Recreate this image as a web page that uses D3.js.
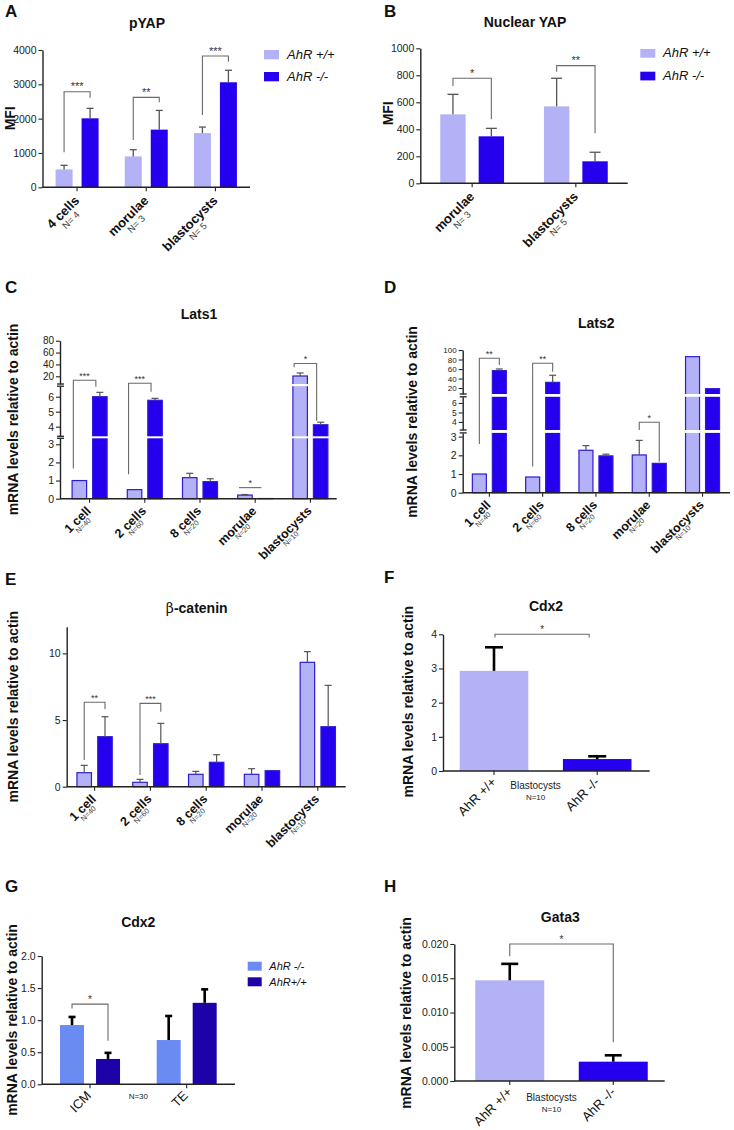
<!DOCTYPE html>
<html><head><meta charset="utf-8">
<script src="https://cdn.jsdelivr.net/npm/d3@7"></script>
<style>
body{margin:0;background:#fff;}
svg{display:block;font-family:"Liberation Sans",Arial,Helvetica,sans-serif;}
</style></head><body>
<svg id="fig" width="734" height="1130"></svg>
<script>
// ================= DATA =================
const genoNames = ["AhR +/+", "AhR -/-"];

// Panel A – pYAP (MFI)
const catA = ["4 cells", "morulae", "blastocysts"];
const nA = ["N= 4", "N= 3", "N= 5"];
const aWT = [520, 900, 1580];
const aWTsem = [120, 195, 175];
const aKO = [2010, 1680, 3060];
const aKOsem = [290, 560, 350];
const ticksA = [0, 1000, 2000, 3000, 4000];
// [group1, series1, group2, series2, top, leftBottom, rightBottom, label]
const sigA = [[0,0,0,1,2785,1020,2610,"***"],[1,0,1,1,2620,1378,2476,"**"],[2,0,2,1,3825,2106,3660,"***"]];

// Panel B – Nuclear YAP (MFI)
const catB = ["morulae", "blastocysts"];
const nB = ["N= 3", "N= 5"];
const bWT = [511, 570];
const bWTsem = [148, 208];
const bKO = [348, 163];
const bKOsem = [59, 67];
const ticksB = [0, 200, 400, 600, 800, 1000];
const sigB = [[0,0,0,1,778,721,474,"*"],[1,0,1,1,872,827,370,"**"]];

// Stages used in C, D, E
const catStages = ["1 cell", "2 cells", "8 cells", "morulae", "blastocysts"];
const nStages = ["N=40", "N=60", "N=20", "N=20", "N=10"];

// Panel C – Lats1
const cWT = [1.0, 0.5, 1.16, 0.2, 20.5];
const cWTsem = [0, 0, 0.24, 0.03, 5.1];
const cKO = [6.0, 5.76, 0.94, 0.01, 4.13];
const cKOsem = [0.29, 0.13, 0.16, 0, 0.17];
const ticksC = [[0,1,2,3],[4,5,6],[20,40,60,80]];
const sigC = [[0,0,0,1,13.3,1.67,6.67,"***"],[1,0,1,1,8.2,1.35,6.33,"***"],[3,0,3,1,0.61,0.61,0.61,"*"],[4,0,4,1,41.5,35.4,4.4,"*"]];

// Panel D – Lats2
const dWT = [1.0, 0.84, 2.27, 2.02, 86];
const dWTsem = [0, 0, 0.25, 0.78, 0];
const dKO = [56.6, 32, 1.97, 1.57, 18.7];
const dKOsem = [3.5, 14.9, 0.09, 0, 0];
const ticksD = [[0,1,2,3],[4,5,6],[20,40,60,80,100]];
const sigD = [[0,0,0,1,82.6,2.6,68.5,"**"],[1,0,1,1,72.1,1.4,54.4,"**"],[3,0,3,1,3.96,3.15,1.66,"*"]];

// Panel E – beta-catenin
const eWT = [1.05, 0.33, 0.93, 0.93, 9.33];
const eWTsem = [0.55, 0.22, 0.22, 0.42, 0.8];
const eKO = [3.75, 3.22, 1.83, 1.2, 4.5];
const eKOsem = [1.5, 1.53, 0.57, 0, 3.1];
const ticksE = [0, 5, 10];
const sigE = [[0,0,0,1,6.33,2.0,5.83,"**"],[1,0,1,1,6.25,0.88,5.63,"***"]];

// Panel F – Cdx2 blastocysts
const catF = ["AhR +/+", "AhR -/-"];
const fVal = [2.93, 0.35];
const fSem = [0.69, 0.08];
const ticksF = [0, 1, 2, 3, 4];
const sigF = [[0,0,1,0,4.16,3.91,3.91,"*"]];

// Panel G – Cdx2 ICM / TE
const catG = ["ICM", "TE"];
const seriesG = ["AhR -/-", "AhR+/+"];
const gKO = [0.924, 0.69];
const gKOsem = [0.126, 0.375];
const gWT = [0.395, 1.27];
const gWTsem = [0.095, 0.21];
const ticksG = [0, 0.5, 1.0, 1.5, 2.0];
const sigG = [[0,0,0,1,1.25,1.18,0.68,"*"]];

// Panel H – Gata3
const catH = ["AhR +/+", "AhR -/-"];
const hVal = [0.0147, 0.00282];
const hSem = [0.0024, 0.00093];
const ticksH = [0, 0.005, 0.010, 0.015, 0.020];
const sigH = [[0,0,1,0,0.0206,0.0182,0.00565,"*"]];

// ================= STYLE =================
const LIGHT = "#b4b2f6", DARK = "#2500ee", OUTLINE = "#2d1cd2";
const G_LIGHT = "#6a8cf2", G_DARK = "#1d02a8";
const svg = d3.select("#fig");

function txt(x, y, s, o) {
  o = o || {};
  const t = svg.append("text").attr("x", x).attr("y", y).text(s)
    .attr("font-size", o.fs || 12).attr("font-weight", o.bold ? "bold" : "normal")
    .attr("text-anchor", o.anchor || "start").attr("fill", o.fill || "#111");
  if (o.italic) t.attr("font-style", "italic");
  if (o.rot) t.attr("transform", `rotate(${o.rot},${x},${y})`);
  return t;
}

function panel(cfg) {
  const g = svg.append("g");
  const segs = cfg.segs.map(s => Object.assign({}, s, {sc: d3.scaleLinear().domain(s.d).range(s.r)}));
  const y = v => { let s = segs[0]; segs.forEach(t => { if (v >= t.d[0]) s = t; }); return s.sc(Math.min(v, s.d[1])); };
  const y0 = y(0);
  const x = d3.scaleBand().domain(cfg.cats).range(cfg.xr);
  const ns = cfg.vals.length;
  const gap = cfg.gap || 0;
  const total = ns * cfg.barW + (ns - 1) * gap;
  const xs = d3.scaleBand().domain(d3.range(ns)).range([-total / 2, total / 2])
    .paddingInner(ns > 1 ? gap / (cfg.barW + gap) : 0);
  const cx = i => x(cfg.cats[i]) + x.bandwidth() / 2;
  const barX = (i, j) => cx(i) + xs(j);
  const barC = (i, j) => barX(i, j) + xs.bandwidth() / 2;
  const w = xs.bandwidth();

  // bars + error bars + gap lines
  cfg.vals.forEach((vals, j) => {
    vals.forEach((v, i) => {
      const bx = barX(i, j);
      g.append("rect").attr("x", bx).attr("y", y(v)).attr("width", w).attr("height", Math.max(0, y0 - y(v)))
        .attr("fill", cfg.color(i, j))
        .attr("stroke", cfg.outline ? OUTLINE : "none").attr("stroke-width", cfg.outline ? 1.2 : 0);
      for (let k = 0; k < segs.length - 1; k++) {
        const gt = segs[k + 1].r[0], gb = segs[k].r[1];
        if (y(v) < gt) g.append("rect").attr("x", bx - 1).attr("y", gt).attr("width", w + 2).attr("height", gb - gt).attr("fill", "#fff");
      }
      const e = cfg.sems[j][i];
      if (e > 0) {
        const c = barC(i, j), yt = y(v + e), yb = y(v);
        g.append("line").attr("x1", c).attr("x2", c).attr("y1", yb).attr("y2", yt)
          .attr("stroke", cfg.err.stroke).attr("stroke-width", cfg.err.sw);
        g.append("line").attr("x1", c - cfg.err.cap / 2).attr("x2", c + cfg.err.cap / 2).attr("y1", yt).attr("y2", yt)
          .attr("stroke", cfg.err.stroke).attr("stroke-width", cfg.err.sw);
      }
    });
  });

  // y axis (possibly broken)
  segs.forEach((s, k) => {
    const a = g.append("g").attr("transform", `translate(${cfg.ax},0)`)
      .call(d3.axisLeft(s.sc).tickValues(s.ticks).tickSize(4).tickSizeOuter(0).tickPadding(2).tickFormat(cfg.fmt));
    a.attr("font-family", null).attr("font-size", null);
    a.select(".domain").attr("stroke", "#222").attr("stroke-width", 1.4);
    a.selectAll(".tick line").attr("stroke", "#222").attr("stroke-width", 1.1);
    a.selectAll(".tick text").attr("font-size", s.fs || 10.5).attr("fill", "#222");
    const marks = [];
    if (k > 0) marks.push(s.r[0]);
    if (k < segs.length - 1) marks.push(s.r[1]);
    marks.forEach(my => g.append("line").attr("x1", cfg.ax - 3).attr("x2", cfg.ax + 4).attr("y1", my).attr("y2", my)
      .attr("stroke", "#222").attr("stroke-width", 1.3));
  });

  // x axis
  const xa = g.append("g").attr("transform", `translate(0,${y0})`)
    .call(d3.axisBottom(x).tickSize(4).tickSizeOuter(0).tickFormat(""));
  xa.select(".domain").remove();
  xa.selectAll(".tick line").attr("stroke", "#222").attr("stroke-width", 1.1);
  g.append("line").attr("x1", cfg.ax).attr("x2", cfg.xEnd).attr("y1", y0).attr("y2", y0)
    .attr("stroke", "#222").attr("stroke-width", 1.4);

  // x labels
  const L = cfg.lab;
  cfg.cats.forEach((c, i) => {
    const t = g.append("g").attr("transform", `translate(${cx(i) + L.dx},${y0 + L.dy}) rotate(-45)`);
    const l1 = t.append("text").attr("text-anchor", "end").attr("font-size", L.fs1)
      .attr("font-weight", L.bold ? "bold" : "normal").attr("fill", "#111").text(c);
    if (cfg.ns) {
      const tw = l1.node().getComputedTextLength();
      t.append("text").attr("x", -tw / 2).attr("y", L.ly2).attr("text-anchor", "middle")
        .attr("font-size", L.fs2).attr("fill", "#444").text(cfg.ns[i]);
    }
  });
  if (cfg.mid) {
    const mx = (cx(0) + cx(cfg.cats.length - 1)) / 2 + cfg.mid.dx;
    cfg.mid.lines.forEach((m, k) => g.append("text").attr("x", mx).attr("y", y0 + cfg.mid.dy[k])
      .attr("text-anchor", "middle").attr("font-size", cfg.mid.fs[k]).attr("fill", "#222").text(m));
  }

  // significance brackets
  cfg.sig.forEach(b => {
    const xl = barC(b[0], b[1]) + cfg.legOff[0], xr = barC(b[2], b[3]) + cfg.legOff[1];
    const yt = y(b[4]);
    g.append("path").attr("d", `M${xl},${y(b[5])}V${yt}H${xr}V${y(b[6])}`)
      .attr("fill", "none").attr("stroke", "#6a6a6a").attr("stroke-width", 1.1);
    g.append("text").attr("x", (xl + xr) / 2).attr("y", yt - 1.5).attr("text-anchor", "middle")
      .attr("font-size", cfg.starFs).attr("fill", "#333").text(b[7]);
  });

  // legend
  if (cfg.legend) {
    const Lg = cfg.legend;
    Lg.names.forEach((n, k) => {
      g.append("rect").attr("x", Lg.x).attr("y", Lg.y + k * Lg.dy).attr("width", Lg.sw).attr("height", Lg.sh).attr("fill", Lg.colors[k]);
      g.append("text").attr("x", Lg.tx).attr("y", Lg.y + k * Lg.dy + Lg.sh - 0.5).attr("font-size", Lg.fs)
        .attr("font-style", "italic").attr("fill", "#111").text(n);
    });
  }
}

const fmtInt = d3.format("d");
const labAB = {dx: 3, dy: 14, fs1: 13, fs2: 9.5, ly2: 10, bold: true};
const labCDE = {dx: 2, dy: 13, fs1: 12.5, fs2: 7.5, ly2: 6.5, bold: true};
const labPlain = {dx: 3, dy: 12, fs1: 13, bold: false};
const errGrey = {stroke: "#555", sw: 1.2, cap: 7};
const byGeno = (i, j) => [LIGHT, DARK][j];

// ---- A
panel({segs: [{d: [0, 4000], r: [187.3, 50], ticks: ticksA}], fmt: fmtInt, ax: 42.5, xr: [42.5, 250], xEnd: 250,
  cats: catA, ns: nA, vals: [aWT, aKO], sems: [aWTsem, aKOsem], barW: 17, gap: 9, color: byGeno,
  err: {stroke: "#555", sw: 1.3, cap: 7}, lab: labAB, sig: sigA, legOff: [0, 0], starFs: 11,
  legend: {x: 264, y: 50, dy: 22, sw: 15, sh: 9.3, tx: 287, fs: 13, names: genoNames, colors: [LIGHT, DARK]}});
// ---- B
panel({segs: [{d: [0, 1000], r: [183.3, 48.3], ticks: ticksB}], fmt: fmtInt, ax: 420.3, xr: [420.3, 627.7], xEnd: 627.7,
  cats: catB, ns: nB, vals: [bWT, bKO], sems: [bWTsem, bKOsem], barW: 25.4, gap: 13, color: byGeno,
  err: {stroke: "#555", sw: 1.3, cap: 11}, lab: labAB, sig: sigB, legOff: [0, 0], starFs: 11,
  legend: {x: 640.3, y: 49, dy: 22.7, sw: 15, sh: 8.7, tx: 663, fs: 13, names: genoNames, colors: [LIGHT, DARK]}});
// ---- C
panel({segs: [{d: [0, 3.33], r: [498.7, 438.3], ticks: ticksC[0]}, {d: [3.36, 6.7], r: [436.3, 386.2], ticks: ticksC[1]},
  {d: [7, 80], r: [384, 340.7], ticks: ticksC[2], fs: 10}], fmt: fmtInt, ax: 60, xr: [62, 338], xEnd: 336.7,
  cats: catStages, ns: nStages, vals: [cWT, cKO], sems: [cWTsem, cKOsem], barW: 14.5, gap: 6, color: byGeno, outline: true,
  err: errGrey, lab: labCDE, sig: sigC, legOff: [-6, -4], starFs: 9});
// ---- D
panel({segs: [{d: [0, 3.2], r: [492.7, 432.9], ticks: ticksD[0]}, {d: [3.15, 6.65], r: [430, 396.8], ticks: ticksD[1], fs: 8.5},
  {d: [7.5, 100], r: [394, 350], ticks: ticksD[2], fs: 8}], fmt: fmtInt, ax: 462.7, xr: [462.7, 729.2], xEnd: 730,
  cats: catStages, ns: nStages, vals: [dWT, dKO], sems: [dWTsem, dKOsem], barW: 14, gap: 6, color: byGeno, outline: true,
  err: errGrey, lab: labCDE, sig: sigD, legOff: [0, 0], starFs: 9});
// ---- E
panel({segs: [{d: [0, 12], r: [786.7, 626.7], ticks: ticksE}], fmt: fmtInt, ax: 66.7, xr: [66.7, 345.7], xEnd: 345.7,
  cats: catStages, ns: nStages, vals: [eWT, eKO], sems: [eWTsem, eKOsem], barW: 14.5, gap: 6.3, color: byGeno, outline: true,
  err: errGrey, lab: labCDE, sig: sigE, legOff: [0, 0], starFs: 9});
// ---- F
panel({segs: [{d: [0, 4], r: [771, 634.3], ticks: ticksF}], fmt: fmtInt, ax: 443, xr: [442.4, 648.8], xEnd: 649.7,
  cats: catF, vals: [fVal], sems: [fSem], barW: 68.6, color: (i) => [LIGHT, DARK][i],
  err: {stroke: "#000", sw: 2.6, cap: 18}, lab: labPlain, sig: sigF, legOff: [1, -8], starFs: 10,
  mid: {dx: -10, dy: [17.5, 28.5], fs: [10, 8], lines: ["Blastocysts", "N=10"]}});
// ---- G
panel({segs: [{d: [0, 2], r: [1084.3, 956], ticks: ticksG}], fmt: d3.format(".1f"), ax: 41.7, xr: [41.7, 235], xEnd: 235,
  cats: catG, vals: [gKO, gWT], sems: [gKOsem, gWTsem], barW: 24, gap: 12, color: (i, j) => [G_LIGHT, G_DARK][j],
  err: {stroke: "#000", sw: 2.6, cap: 7}, lab: {dx: 2, dy: 12, fs1: 13, bold: false}, sig: sigG, legOff: [0, 0], starFs: 10,
  mid: {dx: 0, dy: [15], fs: [8], lines: ["N=30"]},
  legend: {x: 247.7, y: 961.7, dy: 15.6, sw: 14, sh: 9, tx: 269.3, fs: 11, names: seriesG, colors: [G_LIGHT, G_DARK]}});
// ---- H
panel({segs: [{d: [0, 0.02], r: [1081, 944], ticks: ticksH}], fmt: d3.format(".3f"), ax: 454.3, xr: [458, 665], xEnd: 664.7,
  cats: catH, vals: [hVal], sems: [hSem], barW: 69, color: (i) => [LIGHT, DARK][i],
  err: {stroke: "#000", sw: 2.6, cap: 17}, lab: labPlain, sig: sigH, legOff: [0, 0], starFs: 10,
  mid: {dx: -10, dy: [20, 31], fs: [10, 8], lines: ["Blastocysts", "N=10"]}});

// ---- panel letters, titles, axis titles
[["A", 5, 17], ["B", 384, 17], ["C", 5, 293], ["D", 384, 293], ["E", 5, 585], ["F", 384, 583], ["G", 5, 892], ["H", 384, 892]]
  .forEach(p => txt(p[1], p[2], p[0], {fs: 17, bold: true}));
[["pYAP", 147, 28], ["Nuclear YAP", 525, 27], ["Lats1", 199, 319], ["Lats2", 596.3, 328.3],
 ["Cdx2", 546, 611], ["Cdx2", 138.3, 926.7], ["Gata3", 560.3, 921.7]]
  .forEach(p => txt(p[1], p[2], p[0], {fs: 14, bold: true, anchor: "middle"}));
const bt = txt(196.7, 613.3, "", {fs: 14, bold: true, anchor: "middle"});
bt.append("tspan").attr("font-weight", "normal").attr("font-family", "DejaVu Serif").text("β");
bt.append("tspan").text("-catenin");
const yl = "mRNA levels relative to actin";
[["MFI", 15, 118.3], ["MFI", 393, 113.3], [yl, 18, 419.5], [yl, 416.5, 422], [yl, 18, 706.7], [yl, 413, 701.7], [yl, 17, 1020], [yl, 411, 1013]]
  .forEach(p => txt(p[1], p[2], p[0], {fs: 14, bold: true, anchor: "middle", rot: -90}));
</script>
</body></html>
